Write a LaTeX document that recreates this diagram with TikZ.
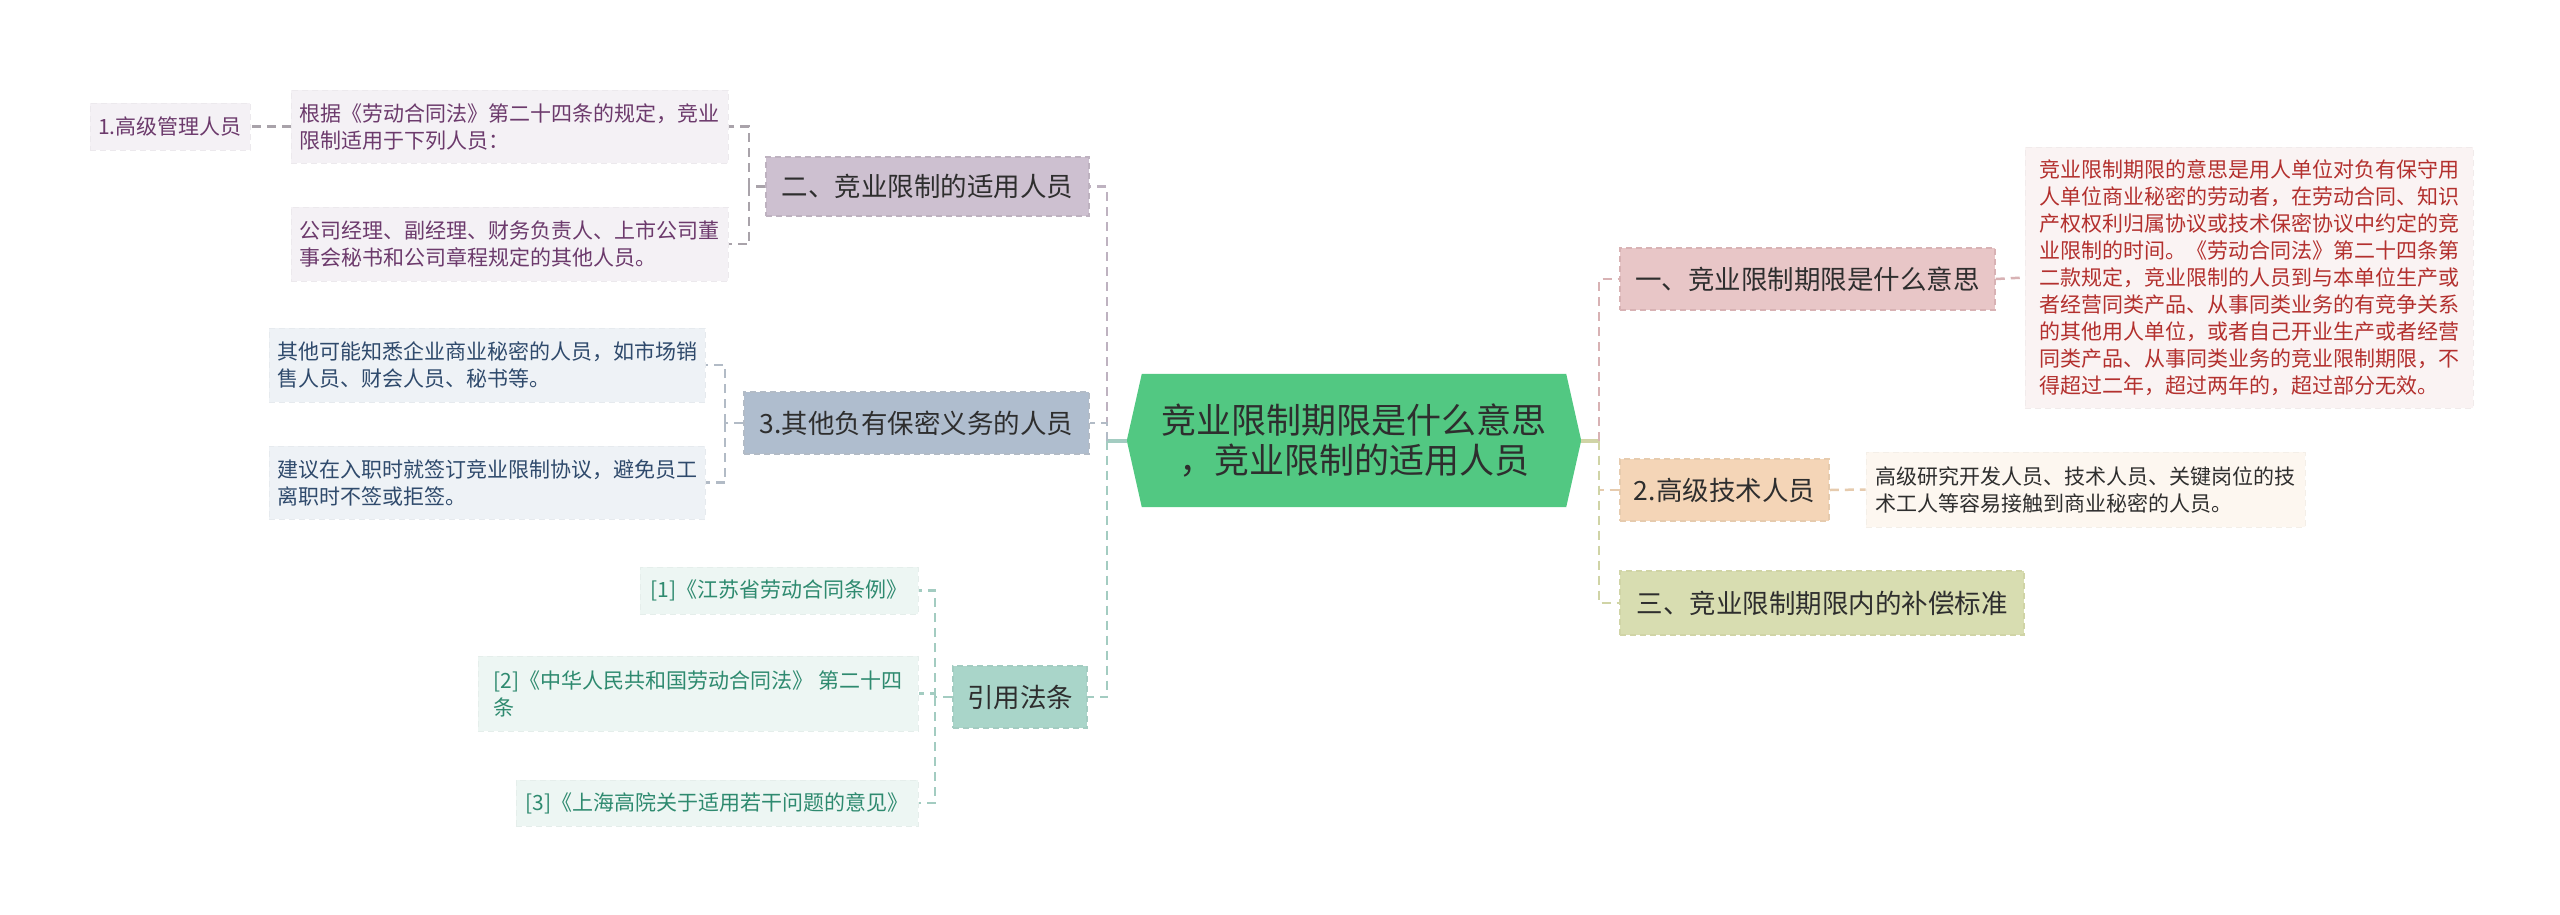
\documentclass[tikz,border=0pt]{standalone}
\usepackage{fontspec}
\setmainfont{Noto Sans CJK SC}
\usetikzlibrary{backgrounds}
\definecolor{cgreen}{HTML}{52C882}
\definecolor{txtdark}{HTML}{2E2E2E}
% right branch colours
\definecolor{pinkfill}{HTML}{E8C6C7}
\definecolor{pinkline}{HTML}{D8B2B4}
\definecolor{pinklight}{HTML}{FAF3F3}
\definecolor{redtext}{HTML}{B3302E}
\definecolor{peachfill}{HTML}{F4D5B7}
\definecolor{peachline}{HTML}{E6CBAE}
\definecolor{peachlight}{HTML}{FDF7F0}
\definecolor{olivefill}{HTML}{D8DDB1}
\definecolor{oliveline}{HTML}{D0D4A6}
% left branch colours
\definecolor{lilacfill}{HTML}{CDC0D0}
\definecolor{lilacline}{HTML}{BEB2C0}
\definecolor{lilaclight}{HTML}{F4F1F5}
\definecolor{purpletext}{HTML}{6C3A6C}
\definecolor{bluefill}{HTML}{AFBDCE}
\definecolor{blueline}{HTML}{B2BBC6}
\definecolor{bluelight}{HTML}{EEF2F6}
\definecolor{bluetext}{HTML}{2F4A6C}
\definecolor{tealfill}{HTML}{A9D5C9}
\definecolor{tealline}{HTML}{A3CCC1}
\definecolor{teallight}{HTML}{EDF6F3}
\definecolor{tealtext}{HTML}{2E8A6F}
\definecolor{subgray}{HTML}{A9A3AA}
\newcommand\fsmall{\fontsize{21pt}{27pt}\selectfont}
\newcommand\fmid{\fontsize{26.5pt}{32pt}\selectfont}
\newcommand\fbig{\fontsize{35pt}{40pt}\selectfont}
\tikzset{
  topicbox/.style 2 args={fill=#1, draw=#2, line width=1.5pt, dash pattern=on 6pt off 4pt,
     font=\fmid, text=txtdark, inner sep=0pt, minimum height=62pt},
  notebox/.style 2 args={fill=#1, draw=#1!93!gray, line width=1pt, dash pattern=on 6pt off 4pt,
     font=\fsmall, text=#2, align=left, inner sep=0pt},
  branch/.style={draw=#1, line width=2.5pt, dash pattern=on 9pt off 6pt},
  stem/.style={draw=#1, line width=4pt},
}
\begin{document}
\begin{tikzpicture}[x=1pt,y=-1pt]
\begin{scope}[on background layer]
\fill[white] (0,0) rectangle (2560,914);
\end{scope}
\useasboundingbox (0,0) rectangle (2560,914);

% ---------- centre ----------
\node (c) at (1354,440.5) [minimum width=454pt, minimum height=133pt, inner sep=0pt,
   align=center, font=\fbig, text=txtdark] {竞业限制期限是什么意思\\，竞业限制的适用人员};
\begin{scope}[on background layer]
\fill[cgreen] (c.west) -- ([xshift=15pt]c.north west) -- ([xshift=-15pt]c.north east)
   -- (c.east) -- ([xshift=-15pt]c.south east) -- ([xshift=15pt]c.south west) -- cycle;
\end{scope}
\coordinate (jl) at (1107,440.5);
\coordinate (jr) at (1599,440.5);

% ---------- right side ----------
\node (r1) at (1807.5,279) [topicbox={pinkfill}{pinkline}, minimum width=375pt] {一、竞业限制期限是什么意思};
\node (r1t) at (2249,277.5) [notebox={pinklight}{redtext}, minimum width=448pt, minimum height=261pt]
 {竞业限制期限的意思是用人单位对负有保守用\\人单位商业秘密的劳动者，在劳动合同、知识\\产权权利归属协议或技术保密协议中约定的竞\\业限制的时间。《劳动合同法》第二十四条第\\二款规定，竞业限制的人员到与本单位生产或\\者经营同类产品、从事同类业务的有竞争关系\\的其他用人单位，或者自己开业生产或者经营\\同类产品、从事同类业务的竞业限制期限，不\\得超过二年，超过两年的，超过部分无效。};
\node (r2) at (1724.5,490) [topicbox={peachfill}{peachline}, minimum width=209pt] {2.高级技术人员};
\node (r2t) at (2085.5,489.5) [notebox={peachlight}{txtdark}, minimum width=439pt, minimum height=75pt]
 {高级研究开发人员、技术人员、关键岗位的技\\术工人等容易接触到商业秘密的人员。};
\node (r3) at (1822,603) [topicbox={olivefill}{oliveline}, minimum width=404pt, minimum height=64pt] {三、竞业限制期限内的补偿标准};

% ---------- left side ----------
\node (l1) at (927.5,186.5) [topicbox={lilacfill}{lilacline}, minimum width=323pt, minimum height=59pt] {二、竞业限制的适用人员};
\node (l1a) at (509.5,126.5) [notebox={lilaclight}{purpletext}, minimum width=437pt, minimum height=73pt]
 {根据《劳动合同法》第二十四条的规定，竞业\\限制适用于下列人员：};
\node (l1b) at (509.5,244) [notebox={lilaclight}{purpletext}, minimum width=437pt, minimum height=74pt]
 {公司经理、副经理、财务负责人、上市公司董\\事会秘书和公司章程规定的其他人员。};
\node (l1a1) at (170,126.5) [notebox={lilaclight}{purpletext}, minimum width=160pt, minimum height=47pt] {1.高级管理人员};

\node (l2) at (916.5,423) [topicbox={bluefill}{blueline}, minimum width=345pt] {3.其他负有保密义务的人员};
\node (l2a) at (487,365) [notebox={bluelight}{bluetext}, minimum width=436pt, minimum height=74pt]
 {其他可能知悉企业商业秘密的人员，如市场销\\售人员、财会人员、秘书等。};
\node (l2b) at (487,482.5) [notebox={bluelight}{bluetext}, minimum width=436pt, minimum height=73pt]
 {建议在入职时就签订竞业限制协议，避免员工\\离职时不签或拒签。};

\node (l3) at (1020,697) [topicbox={tealfill}{tealline}, minimum width=134pt] {引用法条};
\node (l3a) at (779,590.5) [notebox={teallight}{tealtext}, minimum width=278pt, minimum height=47pt] {[1]《江苏省劳动合同条例》};
\node (l3b) at (698,693.5) [notebox={teallight}{tealtext}, minimum width=440pt, minimum height=75pt]
 {[2]《中华人民共和国劳动合同法》 第二十四\\条};
\node (l3c) at (717,803) [notebox={teallight}{tealtext}, minimum width=402pt, minimum height=46pt] {[3]《上海高院关于适用若干问题的意见》};

% ---------- connectors ----------
\draw[stem=tealline] (c.west) -- (jl);
\draw[stem=oliveline] (c.east) -- (jr);

\draw[branch=lilacline] (jl) |- (l1.east);
\draw[branch=blueline] (jl) |- (l2.east);
\draw[branch=tealline] (jl) |- (l3.east);

\draw[branch=pinkline] (jr) |- (r1.west);
\draw[branch=peachline] (jr) |- (r2.west);
\draw[branch=oliveline] (jr) |- (r3.west);

\coordinate (j1) at (749,186.5);
\draw[branch=subgray] (l1.west) -- (j1);
\draw[branch=subgray] (j1) |- (l1a.east);
\draw[branch=subgray] (j1) |- (l1b.east);
\draw[branch=subgray] (l1a.west) -- (l1a1.east);

\coordinate (j2) at (725,423);
\draw[branch=blueline] (l2.west) -- (j2);
\draw[branch=blueline] (j2) |- (l2a.east);
\draw[branch=blueline] (j2) |- (l2b.east);

\coordinate (j3) at (935,697);
\draw[branch=tealline] (l3.west) -- (j3);
\draw[branch=tealline] (j3) |- (l3a.east);
\draw[branch=tealline] (j3) |- (l3b.east);
\draw[branch=tealline] (j3) |- (l3c.east);

\draw[branch=pinkline] (r1.east) -- (r1t.west);
\draw[branch=peachline] (r2.east) -- (r2t.west);
\end{tikzpicture}
\end{document}
